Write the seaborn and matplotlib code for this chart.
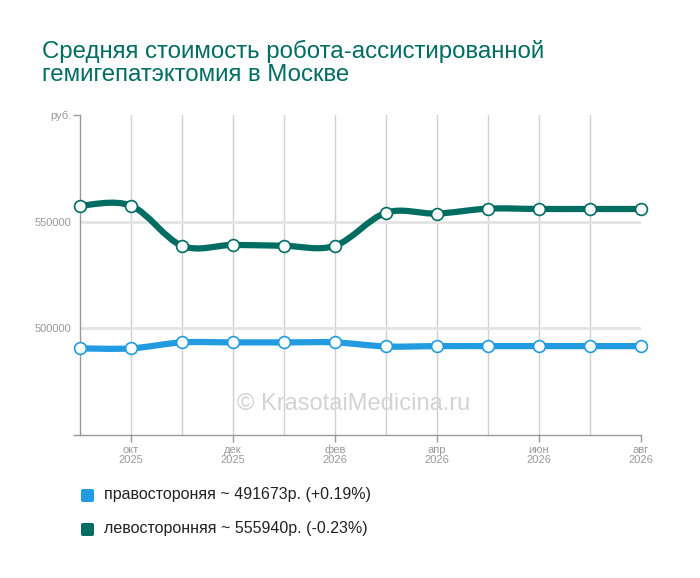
import numpy as np
import pandas as pd
import matplotlib
matplotlib.use('Agg')
import matplotlib.pyplot as plt
import seaborn as sns
from matplotlib.path import Path
from matplotlib.patches import PathPatch, FancyBboxPatch

# данные: помесячно, сен 2025 - авг 2026
months = ['сен\n2025', 'окт\n2025', 'ноя\n2025', 'дек\n2025', 'янв\n2026', 'фев\n2026',
          'мар\n2026', 'апр\n2026', 'май\n2026', 'июн\n2026', 'июл\n2026', 'авг\n2026']
right_side = [490600, 490600, 493400, 493400, 493400, 493400,
              491500, 491673, 491673, 491673, 491673, 491673]
left_side = [557500, 557500, 538700, 539100, 538700, 538700,
             554200, 553800, 556100, 555940, 555940, 555940]
series_names = ['правостороняя ~ 491673р. (+0.19%)', 'левосторонняя ~ 555940р. (-0.23%)']
colors = ['#229be0', '#006d63']

sns.set_theme(style='white')
plt.rcParams['font.family'] = ['Liberation Sans', 'DejaVu Sans']

fig = plt.figure(figsize=(7, 5.78), dpi=100)
ax = fig.add_axes([80 / 700, 1 - 435 / 578, 561 / 700, 320 / 578])

x = np.arange(len(months))


def spline_path(xs, ys):
    # сглаженная линия (кривые Безье через точки)
    xs = np.asarray(xs, float)
    ys = np.asarray(ys, float)
    n = len(xs)
    verts = [(xs[0], ys[0])]
    codes = [Path.MOVETO]
    for i in range(n - 1):
        p0 = max(i - 1, 0)
        p3 = min(i + 2, n - 1)
        t1 = ((xs[i + 1] - xs[p0]) / 2, (ys[i + 1] - ys[p0]) / 2) if i > 0 else (0.5, 0)
        t2 = ((xs[p3] - xs[i]) / 2, (ys[p3] - ys[i]) / 2) if i + 1 < n - 1 else (0.5, 0)
        verts += [(xs[i] + t1[0] / 3, ys[i] + t1[1] / 3),
                  (xs[i + 1] - t2[0] / 3, ys[i + 1] - t2[1] / 3),
                  (xs[i + 1], ys[i + 1])]
        codes += [Path.CURVE4] * 3
    return Path(verts, codes)


for vals, c in zip([right_side, left_side], colors):
    ax.add_patch(PathPatch(spline_path(x, vals), fill=False, edgecolor=c, lw=4.5,
                           capstyle='round', zorder=3))
    df = pd.DataFrame({'x': x, 'y': vals})
    sns.lineplot(data=df, x='x', y='y', ax=ax, color=c, linewidth=0, marker='o',
                 markersize=8.5, markerfacecolor='white', markeredgecolor=c,
                 markeredgewidth=1.2, zorder=4, clip_on=False)

ax.set_xlim(0, len(months) - 1)
ax.set_ylim(450000, 600000)

# сетка
for xi in x[1:-1]:
    ax.axvline(xi, color='#d0d0d0', lw=1, zorder=1)
for yv in [500000, 550000]:
    ax.axhline(yv, color='#e3e3e3', lw=2, zorder=1)

ax.set_xticks(x[1::2])
ax.set_xticklabels(months[1::2], fontsize=8, color='#999999', linespacing=1.0)
ax.set_yticks([450000, 500000, 550000, 600000])
ax.set_yticklabels(['', '500000', '550000', 'руб.'], fontsize=8, color='#999999')
ax.tick_params(axis='x', length=5, width=1, color='#999999', pad=2, direction='out', bottom=True)
ax.tick_params(axis='y', length=5, width=1, color='#999999', pad=1, direction='out', left=True)
ax.yaxis.get_major_ticks()[1].tick1line.set_visible(False)
ax.yaxis.get_major_ticks()[2].tick1line.set_visible(False)
ax.set_xlabel('')
ax.set_ylabel('')

for s in ['top', 'right']:
    ax.spines[s].set_visible(False)
for s in ['left', 'bottom']:
    ax.spines[s].set_color('#999999')
    ax.spines[s].set_linewidth(1)

ax.text(0.487, 0.097, '© KrasotaiMedicina.ru', transform=ax.transAxes, ha='center',
        va='center', fontsize=17, color='#d3d3d3', zorder=2)

fig.text(42 / 700, 1 - 63 / 578, 'Средняя стоимость робота-ассистированной\nгемигепатэктомия в Москве',
         fontsize=17.3, color='#006d63', ha='left', va='center', linespacing=1.08)

# легенда
for i, (name, c) in enumerate(zip(series_names, colors)):
    yc = 495 + i * 34
    fig.patches.append(FancyBboxPatch((81 / 700, 1 - (yc + 7) / 578), 13 / 700, 13 / 578,
                                      boxstyle='round,pad=0,rounding_size=0.003',
                                      transform=fig.transFigure, facecolor=c, edgecolor='none'))
    fig.text(104 / 700, 1 - yc / 578, name, fontsize=11.5, color='#222222', ha='left', va='center')

fig.savefig('out.png', dpi=100)
